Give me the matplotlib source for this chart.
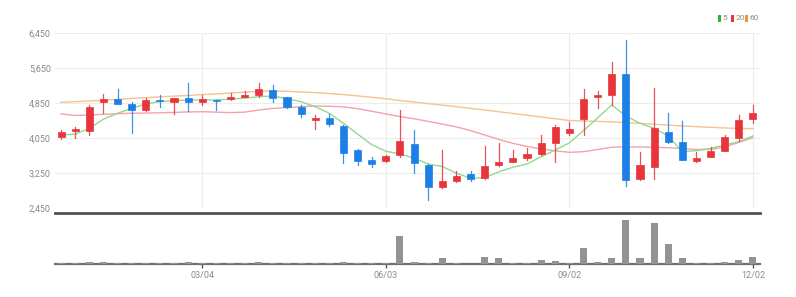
import matplotlib
matplotlib.use("Agg")
import matplotlib.pyplot as plt
from matplotlib.patches import Rectangle

# weekly candles (red = up, blue = down)
opens = [4080, 4218, 4218, 4865, 4933, 4826, 4689, 4917, 4865, 4955,
         4865, 4917, 4940, 4992, 5031, 5145, 4978, 4750, 4468, 4500,
         4332, 3778, 3550, 3527, 3664, 3915, 3443, 2928, 3079, 3225,
         3133, 3436, 3511, 3588, 3687, 3945, 4172, 4477, 4992, 5031,
         5510, 3117, 3384, 4181, 3954, 3527, 3625, 3763, 4045, 4484]
highs = [4234, 4309, 4803, 5054, 5161, 4878, 4955, 5031, 4970, 5297,
         5031, 4917, 5083, 5120, 5313, 5265, 4990, 4810, 4575, 4590,
         4340, 3800, 3610, 3660, 4690, 4234, 3460, 3778, 3300, 3290,
         3870, 3930, 3778, 3830, 4120, 4348, 4420, 5161, 5130, 5790,
         6284, 3740, 5197, 4628, 4445, 3740, 3850, 4120, 4575, 4803]
lows = [4022, 4045, 4120, 4614, 4833, 4158, 4670, 4750, 4590, 4673,
        4803, 4690, 4920, 4975, 4990, 4880, 4740, 4540, 4250, 4330,
        3475, 3436, 3390, 3500, 3625, 3247, 2640, 2910, 3040, 3080,
        3120, 3420, 3495, 3550, 3670, 3511, 4130, 4120, 4728, 4803,
        2958, 3100, 3110, 3940, 3540, 3510, 3610, 3750, 3990, 4386]
closes = [4195, 4250, 4764, 4947, 4833, 4689, 4917, 4894, 4970, 4878,
          4933, 4894, 4978, 5024, 5160, 4956, 4764, 4590, 4500, 4370,
          3717, 3534, 3466, 3640, 3990, 3489, 2928, 3079, 3193, 3118,
          3414, 3511, 3588, 3687, 3930, 4295, 4250, 4940, 5031, 5510,
          3095, 3436, 4272, 3954, 3550, 3603, 3755, 4067, 4462, 4628]

ma5 = [4120, 4140, 4272, 4480, 4614, 4728, 4826, 4880, 4900, 4917,
       4917, 4920, 4935, 4960, 4992, 5008, 4947, 4878, 4764, 4614,
       4386, 4140, 3900, 3750, 3690, 3590, 3460, 3400, 3250, 3135,
       3145, 3280, 3385, 3460, 3625, 3778, 3940, 4220, 4510, 4803,
       4553, 4386, 4272, 4097, 3740, 3763, 3816, 3892, 3967, 4097]
ma20 = [4600, 4565, 4575, 4590, 4605, 4615, 4620, 4625, 4635, 4645,
        4650, 4640, 4630, 4640, 4690, 4725, 4745, 4765, 4780, 4775,
        4760, 4720, 4660, 4600, 4540, 4490, 4430, 4370, 4305, 4220,
        4120, 4020, 3930, 3860, 3800, 3760, 3725, 3740, 3790, 3840,
        3850, 3845, 3840, 3830, 3810, 3790, 3790, 3850, 3950, 4060]
ma60 = [4865, 4880, 4895, 4910, 4930, 4955, 4970, 4990, 5005, 5020,
        5040, 5055, 5075, 5095, 5115, 5125, 5115, 5100, 5085, 5065,
        5040, 5010, 4980, 4945, 4905, 4870, 4835, 4800, 4765, 4725,
        4690, 4650, 4610, 4570, 4530, 4490, 4450, 4440, 4430, 4420,
        4400, 4385, 4365, 4345, 4325, 4310, 4295, 4280, 4270, 4265]

volumes = [0.8, 0.9, 1.5, 1.5, 0.8, 0.8, 0.8, 0.8, 0.8, 1.5,
           0.8, 0.8, 0.8, 0.8, 1.5, 0.8, 0.8, 0.8, 0.8, 0.8,
           1.5, 0.8, 0.8, 0.8, 27.3, 1.7, 1.0, 5.7, 1.0, 0.2,
           7.0, 6.3, 1.3, 1.3, 3.7, 3.0, 1.0, 15.7, 2.3, 5.7,
           43.3, 6.3, 40.0, 19.3, 6.3, 1.0, 1.0, 2.3, 4.3, 7.0]

tick_idx = [10, 23, 36, 49]
tick_labels = ["03/04", "06/03", "09/02", "12/02"]
price_ticks = [2450, 3250, 4050, 4850, 5650, 6450]

UP = "#e8343b"
DOWN = "#1b7fe6"
GRID = "#ececec"
TXT = "#8a8a8a"
FONT = ["Liberation Sans Narrow", "Roboto", "DejaVu Sans"]
plt.rcParams["font.family"] = FONT

fig = plt.figure(figsize=(7.96, 2.97), dpi=100)
ax = fig.add_axes([55 / 796, 1 - 208.3 / 297, 705 / 796, 175.6 / 297])
axv = fig.add_axes([55 / 796, 1 - 264 / 297, 705 / 796, 51 / 297])

n = len(closes)
xs = list(range(n))
bw = 0.5

for i in xs:
    o, h, l, c = opens[i], highs[i], lows[i], closes[i]
    col = UP if c >= o else DOWN
    ax.plot([i, i], [l, h], color=col, lw=0.9, zorder=3, alpha=0.85)
    lo, hi = min(o, c), max(o, c)
    ax.add_patch(Rectangle((i - bw / 2, lo), bw, max(hi - lo, 12),
                           facecolor=col, edgecolor=col, lw=0.5, zorder=4))

ax.plot(xs, ma60, color="#f6c28e", lw=1.0, zorder=2)
ax.plot(xs, ma20, color="#f3a2aa", lw=1.0, zorder=2)
ax.plot(xs, ma5, color="#93d98f", lw=1.0, zorder=2)

ax.set_xlim(-0.43, 49.5)
ax.set_ylim(2450, 6450)
ax.set_yticks(price_ticks)
ax.set_yticklabels([f"{p:,}" for p in price_ticks])
ax.set_xticks(tick_idx)
ax.tick_params(axis="x", length=0, labelbottom=False)
ax.tick_params(axis="y", length=0, labelsize=6.5, labelcolor=TXT, pad=3)
ax.grid(True, color=GRID, lw=0.8)
ax.set_axisbelow(True)
for s in ax.spines.values():
    s.set_visible(False)

# legend
lx = [718, 731, 745]
for x, col, lab in zip(lx, ["#2db52d", UP, "#f2952f"], ["5", "20", "60"]):
    fig.patches.append(Rectangle((x / 796, 1 - 22 / 297), 3 / 796, 7 / 297,
                                 transform=fig.transFigure, facecolor=col,
                                 edgecolor="none"))
    fig.text((x + 4.5) / 796, 1 - 18.5 / 297, lab, fontsize=6, color=TXT,
             va="center", ha="left")

# volume
axv.bar(xs, volumes, width=0.5, color="#939393", zorder=3)
axv.set_xlim(-0.43, 49.5)
axv.set_ylim(0, 43.3 * 51 / 44)
axv.set_yticks([])
axv.set_xticks(tick_idx)
axv.set_xticklabels(tick_labels)
axv.tick_params(axis="x", length=3, width=1, color="#555555",
                labelsize=6.5, labelcolor=TXT, pad=2)
for k in ["left", "right"]:
    axv.spines[k].set_visible(False)
axv.spines["top"].set_color("#505050")
axv.spines["top"].set_linewidth(2.0)
axv.spines["bottom"].set_color("#707070")
axv.spines["bottom"].set_linewidth(1.6)

fig.savefig("out.png", dpi=100)
